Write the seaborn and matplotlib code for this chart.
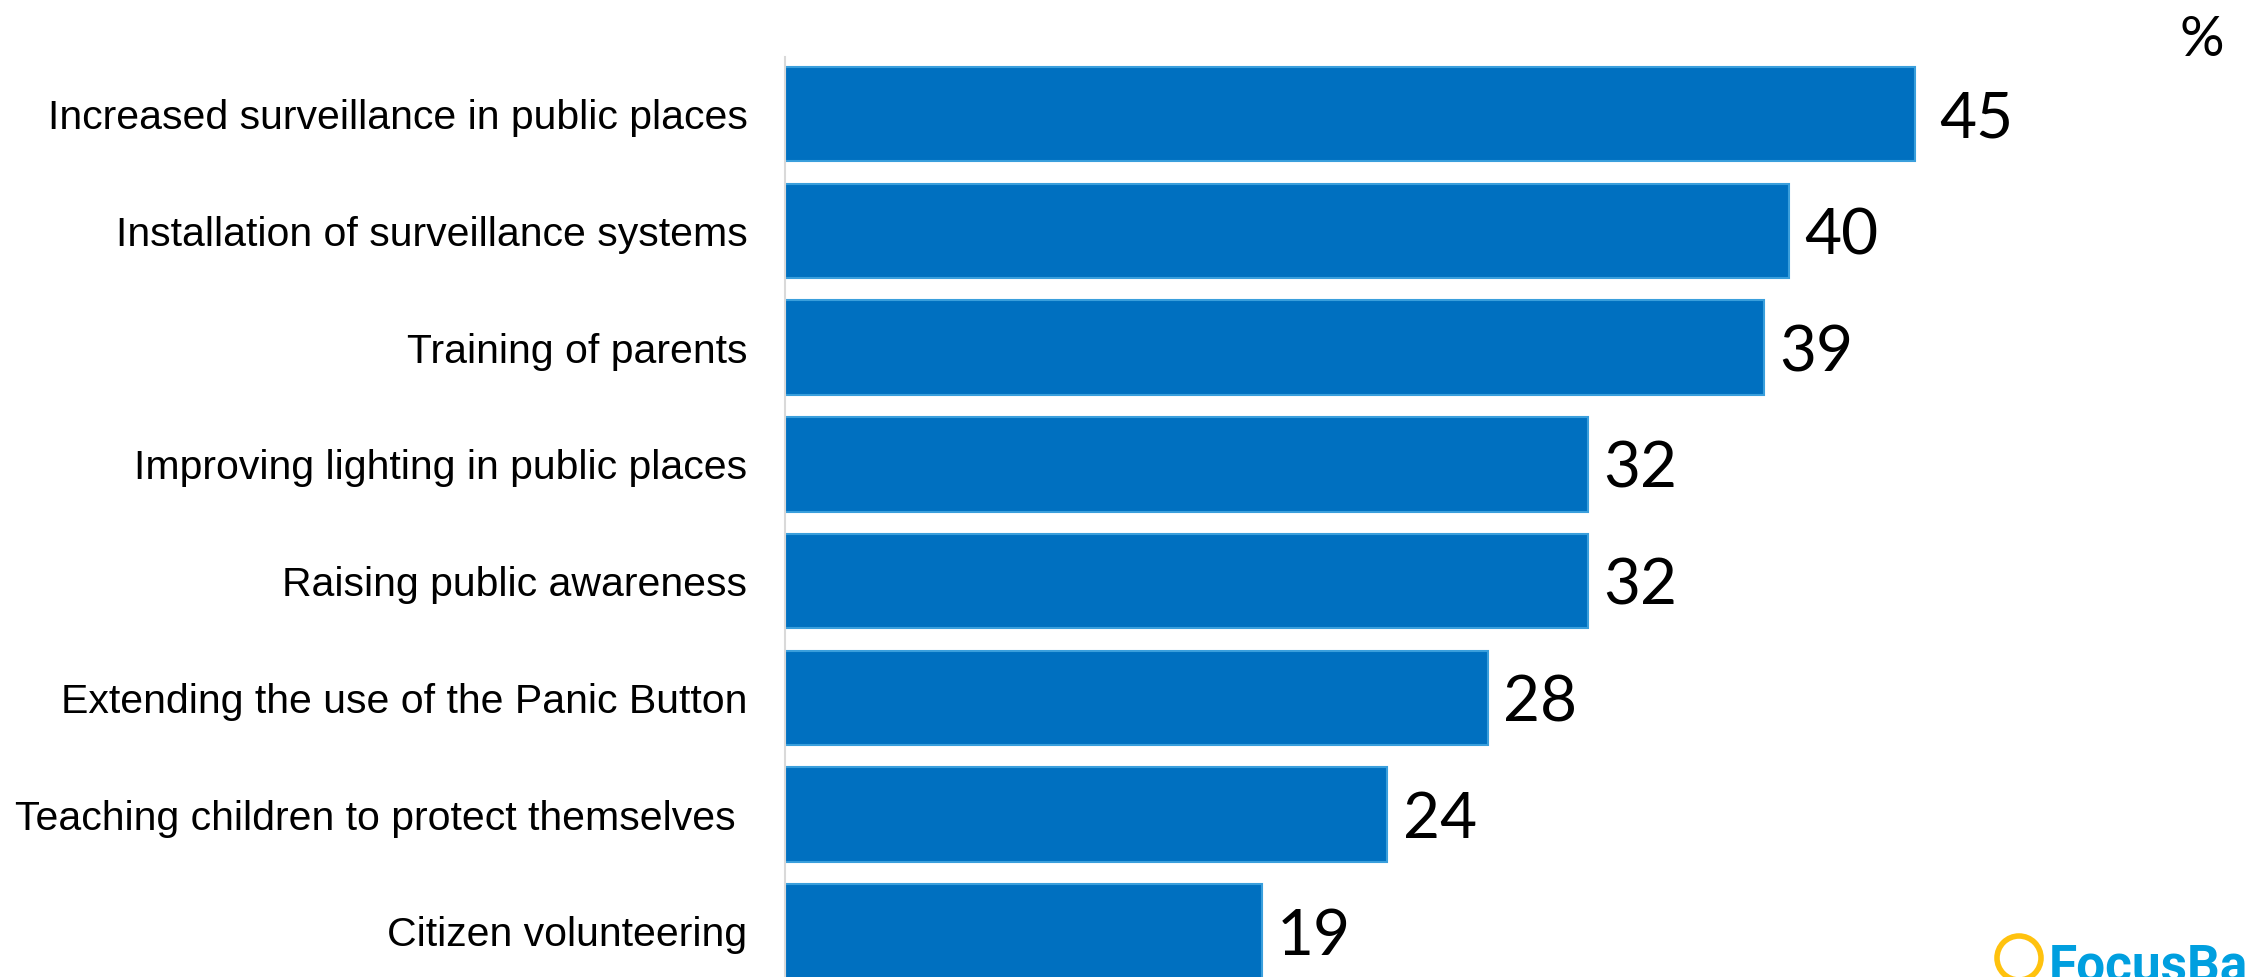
import numpy as np
import pandas as pd
import matplotlib
matplotlib.use('Agg')
import matplotlib.pyplot as plt
from matplotlib.patches import Ellipse
import seaborn as sns

# Data (%)
categories = [
    'Increased surveillance in public places',
    'Installation of surveillance systems',
    'Training of parents',
    'Improving lighting in public places',
    'Raising public awareness',
    'Extending the use of the Panic Button',
    'Teaching children to protect themselves ',
    'Citizen volunteering',
]
values = [45, 40, 39, 32, 32, 28, 24, 19]

BAR_COLOR = '#0070C0'
EDGE_COLOR = '#3A9FDC'
LABEL_FONT = 'Liberation Sans'
NUM_FONT = 'Lato'

sns.set_style('white')
plt.rcParams['font.family'] = [LABEL_FONT, 'DejaVu Sans']

W, H = 2246, 977
fig = plt.figure(figsize=(W / 100, H / 100), dpi=100)
ax = fig.add_axes([785 / W, 0, 1 - 785 / W, 920 / H])

df = pd.DataFrame({'category': categories, 'value': values})
sns.barplot(data=df, x='value', y='category', orient='h', width=0.81,
            color=BAR_COLOR, edgecolor=EDGE_COLOR, linewidth=1.5,
            saturation=1, ax=ax)

ax.set_xlim(0, (W - 785) / 25.1)
ax.set_ylim(7.39, -0.49)
ax.set_xlabel('')
ax.set_ylabel('')
ax.set_xticks([])

for s in ['top', 'right', 'bottom']:
    ax.spines[s].set_visible(False)
ax.spines['left'].set_color('#D9D9D9')
ax.spines['left'].set_linewidth(1.5)

ax.tick_params(axis='y', length=0, pad=27)
for lbl in ax.get_yticklabels():
    lbl.set_fontsize(29.5)
    lbl.set_color('black')

# value labels (the first one sits a little further out in the original)
for i, v in enumerate(values):
    off = 18 if i == 0 else 11
    ax.annotate(str(v), xy=(v, i), xytext=(off, 0), textcoords='offset points',
                va='center_baseline', ha='left', fontsize=46, family=NUM_FONT,
                color='black', annotation_clip=False)

fig.text(2202 / W, 1 - 40 / H, '%', ha='center', va='center', fontsize=40,
         family=NUM_FONT, color='black')

# logo, partly cut off at the bottom right
ring = Ellipse((2019 / W, 1 - 958 / H), 44 / W, 44 / H, transform=fig.transFigure,
               fill=False, edgecolor='#FFC20E', linewidth=4)
fig.add_artist(ring)
fig.text(2049 / W, 1 - 943 / H, 'FocusBari', ha='left', va='top', fontsize=37,
         fontweight='bold', color='#009FDF', family='Roboto')

fig.savefig('out.png', dpi=100)
